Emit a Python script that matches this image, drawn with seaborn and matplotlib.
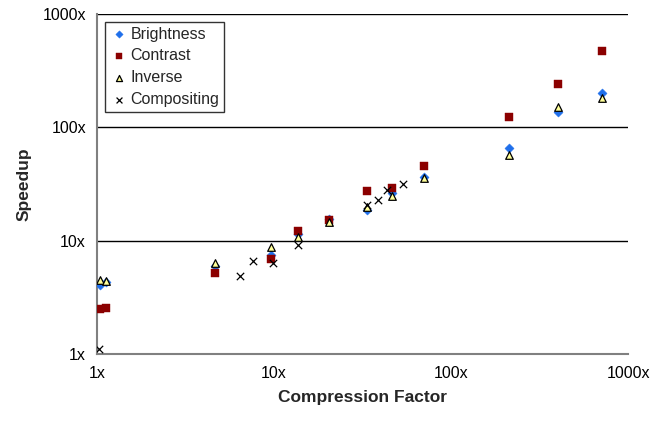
import numpy as np
import pandas as pd
import matplotlib
matplotlib.use("Agg")
import matplotlib.pyplot as plt
import seaborn as sns

# x values (compression factor) shared by the three image benchmarks
bench_x = [1.04, 1.12, 4.64, 9.62, 13.7, 20.5, 33.5, 46.4, 70.4, 212, 402, 713]
brightness = [4.06, 4.3, 6.0, 7.48, 11.5, 15.5, 18.7, 26.4, 36.5, 65.8, 137, 201]
contrast = [2.50, 2.55, 5.19, 6.89, 12.2, 15.2, 27.5, 29.2, 45.6, 124, 242, 472]
inverse = [4.50, 4.41, 6.36, 8.80, 10.8, 14.6, 20.0, 24.8, 35.8, 57.1, 151, 182]

comp_x = [1.03, 6.43, 7.61, 9.87, 13.7, 33.5, 38.7, 43.5, 53.5]
compositing = [1.11, 4.88, 6.62, 6.36, 9.16, 20.7, 22.9, 28.0, 31.7]

tick_vals = [1, 10, 100, 1000]
tick_labels = ["1x", "10x", "100x", "1000x"]

sns.set_style("white")
plt.rcParams["font.family"] = ["Liberation Sans", "DejaVu Sans"]

fig = plt.figure(figsize=(6.67, 4.26), dpi=100)
ax = fig.add_axes([97 / 667, 1 - 354 / 426, 531 / 667, 340 / 426])

df_b = pd.DataFrame({"x": bench_x, "y": brightness})
df_c = pd.DataFrame({"x": bench_x, "y": contrast})
df_i = pd.DataFrame({"x": bench_x, "y": inverse})
df_x = pd.DataFrame({"x": comp_x, "y": compositing})

sns.scatterplot(data=df_b, x="x", y="y", ax=ax, marker="D", s=22,
                color="#1F6FEB", edgecolor="#1F6FEB", linewidth=0.3,
                label="Brightness", zorder=3)
sns.scatterplot(data=df_c, x="x", y="y", ax=ax, marker="s", s=34,
                color="#8B0000", edgecolor="#8B0000", linewidth=0.3,
                label="Contrast", zorder=3)
sns.scatterplot(data=df_i, x="x", y="y", ax=ax, marker="^", s=30,
                color="#FFFF99", edgecolor="black", linewidth=0.9,
                label="Inverse", zorder=4)
sns.scatterplot(data=df_x, x="x", y="y", ax=ax, marker="x", s=28,
                color="black", linewidth=0.9,
                label="Compositing", zorder=4)

ax.set_xscale("log")
ax.set_yscale("log")
ax.set_xlim(1, 1000)
ax.set_ylim(1, 1000)
ax.set_xticks(tick_vals)
ax.set_xticklabels(tick_labels)
ax.set_yticks(tick_vals)
ax.set_yticklabels(tick_labels)
ax.minorticks_off()
ax.tick_params(axis="both", labelsize=11.5, length=4, direction="out",
               color="#808080", width=1, labelcolor="black")
ax.tick_params(axis="x", pad=5)
ax.tick_params(axis="y", pad=4)

ax.yaxis.grid(True, color="black", linewidth=1)
ax.xaxis.grid(False)
ax.set_axisbelow(True)

for side in ["top", "right"]:
    ax.spines[side].set_visible(False)
for side in ["left", "bottom"]:
    ax.spines[side].set_color("#808080")
    ax.spines[side].set_linewidth(1.5)

ax.set_xlabel("Compression Factor", fontsize=12.5, fontweight="bold", labelpad=6)
ax.set_ylabel("Speedup", fontsize=12.5, fontweight="bold", labelpad=8)

leg = ax.legend(loc="upper left", bbox_to_anchor=(0.015, 0.977),
                borderaxespad=0, fontsize=11.5, frameon=True, fancybox=False,
                handletextpad=0.1, borderpad=0.3, labelspacing=0.42,
                handlelength=1.2, markerscale=0.8)
leg.get_frame().set_edgecolor("black")
leg.get_frame().set_linewidth(1)

fig.savefig("out.png", dpi=100)
